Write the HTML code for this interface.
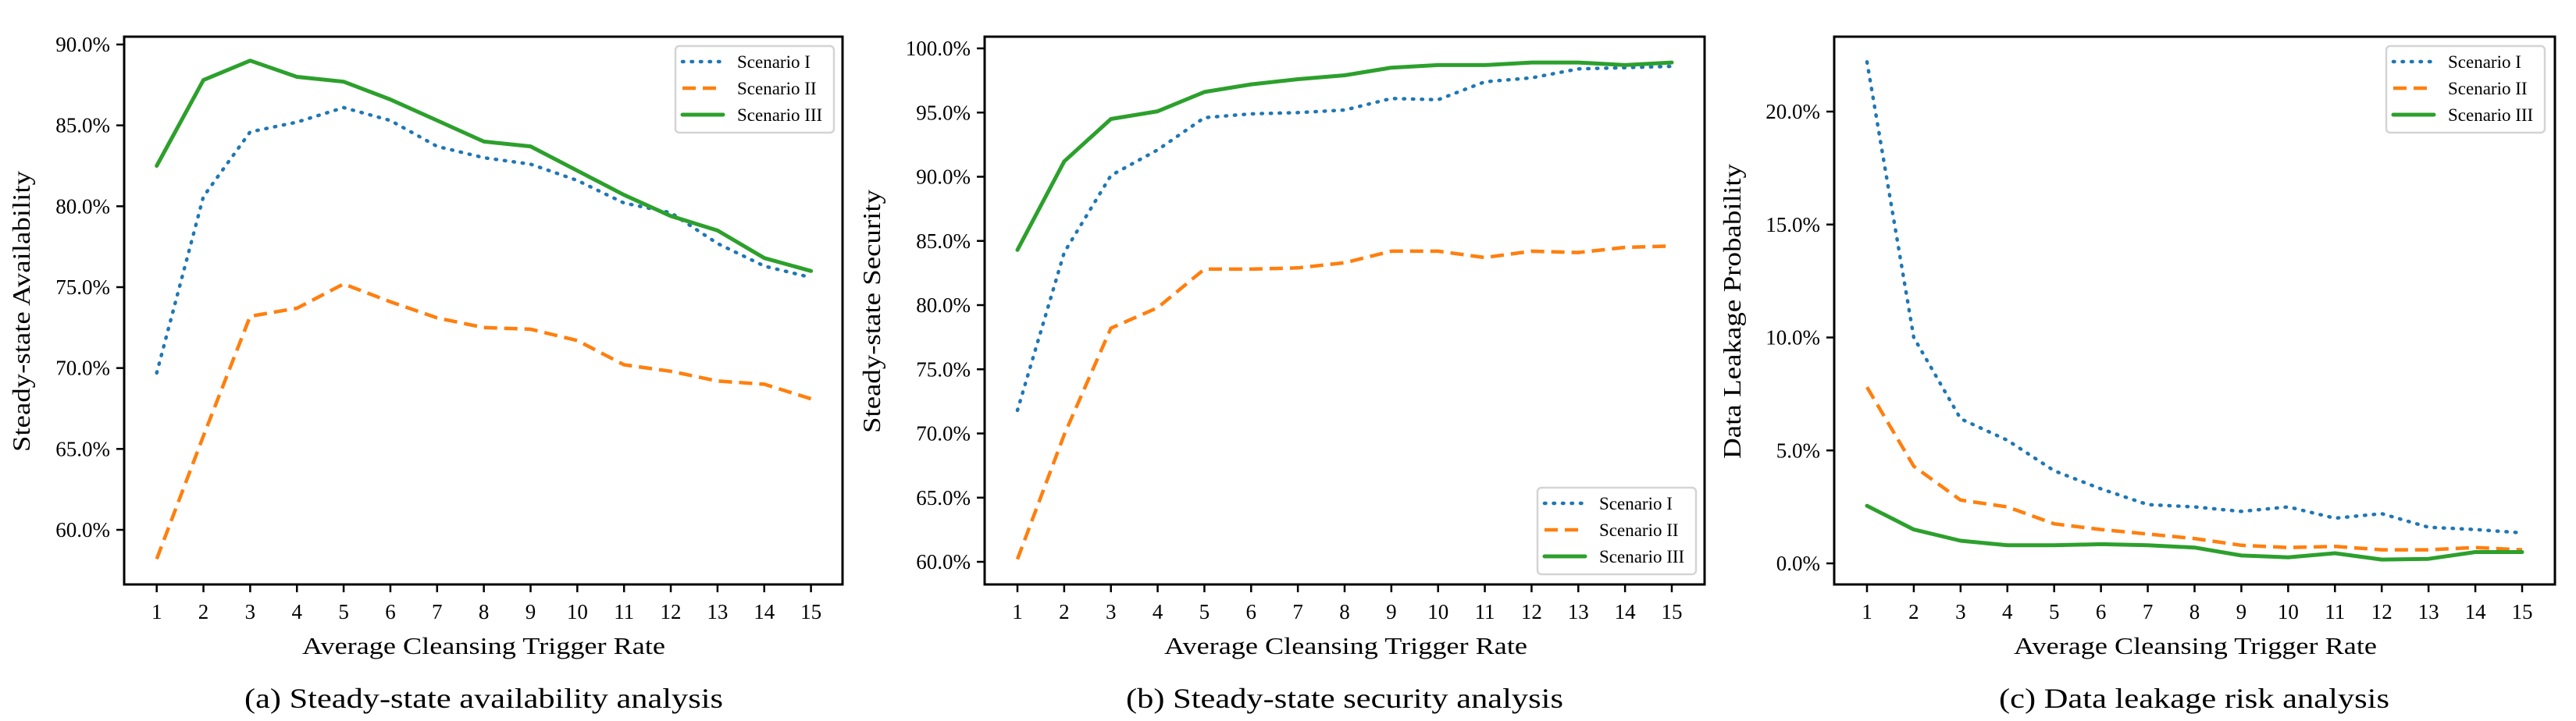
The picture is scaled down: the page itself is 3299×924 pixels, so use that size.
<!DOCTYPE html>
<html><head><meta charset="utf-8">
<style>
html,body{margin:0;padding:0;background:#fff;}
svg{display:block;font-family:"Liberation Serif","DejaVu Serif",serif;}
</style></head>
<body>
<svg id="chart" width="3299" height="924" viewBox="0 0 3299 924" xmlns="http://www.w3.org/2000/svg"></svg>
<script>
const xCategories = [1,2,3,4,5,6,7,8,9,10,11,12,13,14,15];
const seriesNames = ["Scenario I","Scenario II","Scenario III"];
const availI = [69.7,80.6,84.6,85.2,86.1,85.3,83.7,83.0,82.6,81.6,80.2,79.6,77.7,76.3,75.6];
const availII = [58.2,65.8,73.2,73.7,75.2,74.1,73.1,72.5,72.4,71.7,70.2,69.8,69.2,69.0,68.1];
const availIII = [82.5,87.8,89.0,88.0,87.7,86.6,85.3,84.0,83.7,82.2,80.7,79.4,78.5,76.8,76.0];
const secI = [71.8,84.1,90.1,92.1,94.6,94.9,95.0,95.2,96.1,96.0,97.4,97.7,98.4,98.5,98.6];
const secII = [60.2,69.9,78.2,79.8,82.8,82.8,82.9,83.3,84.2,84.2,83.7,84.2,84.1,84.5,84.6];
const secIII = [84.3,91.2,94.5,95.1,96.6,97.2,97.6,97.9,98.5,98.7,98.7,98.9,98.9,98.7,98.9];
const leakI = [22.2,10.0,6.4,5.45,4.1,3.3,2.6,2.5,2.3,2.5,2.0,2.2,1.6,1.5,1.35];
const leakII = [7.8,4.3,2.8,2.5,1.75,1.5,1.3,1.1,0.8,0.7,0.75,0.6,0.6,0.7,0.6];
const leakIII = [2.55,1.5,1.0,0.8,0.8,0.85,0.8,0.7,0.35,0.27,0.45,0.17,0.2,0.5,0.5];
const availTicks = [60,65,70,75,80,85,90];
const secTicks = [60,65,70,75,80,85,90,95,100];
const leakTicks = [0,5,10,15,20];

const NS="http://www.w3.org/2000/svg";
const svg=document.getElementById('chart');
function mk(tag,attrs,parent){const e=document.createElementNS(NS,tag);for(const k in attrs)e.setAttribute(k,attrs[k]);(parent||svg).appendChild(e);return e;}
const colors=["#1f77b4","#ff7f0e","#2ca02c"];
const dashes=["1.5,10","17,9",""];
const caps=["round","butt","round"];

function panel(p){
  const g=mk('g',{});
  
  
  const xs=v=>p.x1+(v-1)*(p.x15-p.x1)/14;
  const ys=v=>p.yA+(v-p.vA)*(p.yB-p.yA)/(p.vB-p.vA);
  // series
  p.series.forEach((arr,i)=>{
    const pts=arr.map((v,j)=>xs(xCategories[j]).toFixed(1)+','+ys(v).toFixed(1)).join(' ');
    const l=mk('polyline',{points:pts,fill:'none',stroke:colors[i],'stroke-width':i==2?5:4.5,'stroke-linejoin':'round','stroke-linecap':caps[i]},g);
    if(dashes[i])l.setAttribute('stroke-dasharray',dashes[i]);
    
    
  });
  // frame
  const fr=mk('rect',{x:p.L,y:47,width:p.R-p.L,height:702,fill:'none',stroke:'#000','stroke-width':3},g);
  
  
  // y ticks
  p.yt.forEach(t=>{
    const y=ys(t);
    mk('line',{x1:p.L-10,x2:p.L,y1:y,y2:y,stroke:'#000','stroke-width':2.5},g);
    const tx=mk('text',{x:p.L-18,y:y+9,'text-anchor':'end','font-size':27},g);
    tx.textContent=t.toFixed(1)+'%';
    
    
  });
  xCategories.forEach(c=>{
    const x=xs(c);
    mk('line',{x1:x,x2:x,y1:749,y2:759,stroke:'#000','stroke-width':2.5},g);
    const tx=mk('text',{x:x,y:793,'text-anchor':'middle','font-size':27},g);
    tx.textContent=c;
    
    
  });
  const xl=mk('text',{x:(p.xl0+p.xl1)/2,y:838,'text-anchor':'middle','font-size':31,textLength:p.xl1-p.xl0,lengthAdjust:'spacingAndGlyphs'},g);
  xl.textContent='Average Cleansing Trigger Rate';
  
  
  const yl=mk('text',{x:0,y:0,'text-anchor':'middle','font-size':32,textLength:p.ylLen,lengthAdjust:'spacingAndGlyphs',transform:`translate(${p.ylx},${p.ylc}) rotate(-90)`},g);
  yl.textContent=p.ylabel;
  
  
  const cp=mk('text',{x:(p.c0+p.c1)/2,y:907,'text-anchor':'middle','font-size':36,textLength:p.c1-p.c0,lengthAdjust:'spacingAndGlyphs'},g);
  cp.textContent=p.caption;
  
  
  // legend
  const lg=mk('g',{},g);
  
  
  mk('rect',{x:p.lgx,y:p.lgy,width:203,height:111,rx:5,fill:'#fff','fill-opacity':0.8,stroke:'#d4d4d4','stroke-width':2.5},lg);
  seriesNames.forEach((n,i)=>{
    const y=p.lgy+20+i*34;
    const l=mk('line',{x1:p.lgx+9,x2:p.lgx+61,y1:y,y2:y,stroke:colors[i],'stroke-width':i==2?5:4.5,'stroke-linecap':caps[i]},lg);
    if(dashes[i])l.setAttribute('stroke-dasharray',dashes[i]);
    
    
    const t=mk('text',{x:p.lgx+79,y:y+8,'font-size':23},lg);
    t.textContent=n;
    
    
  });
}
panel({name:'availability-panel',L:159,R:1079,x1:200.7,x15:1038.6,vA:90,yA:57,vB:60,yB:679,yt:availTicks,
  series:[availI,availII,availIII],xl0:387,xl1:852,ylx:38,ylc:399,ylLen:360,ylabel:'Steady-state Availability',
  c0:313,c1:926,caption:'(a) Steady-state availability analysis',lgx:865,lgy:59});
panel({name:'security-panel',L:1261,R:2183,x1:1303,x15:2141,vA:100,yA:62,vB:60,yB:720,yt:secTicks,
  series:[secI,secII,secIII],xl0:1491,xl1:1956,ylx:1127,ylc:399,ylLen:312,ylabel:'Steady-state Security',
  c0:1442,c1:2002,caption:'(b) Steady-state security analysis',lgx:1969,lgy:625});
panel({name:'leakage-panel',L:2349,R:3272,x1:2391,x15:3230,vA:20,yA:143,vB:0,yB:722,yt:leakTicks,
  series:[leakI,leakII,leakIII],xl0:2579,xl1:3044,ylx:2229,ylc:399,ylLen:378,ylabel:'Data Leakage Probability',
  c0:2560,c1:3060,caption:'(c) Data leakage risk analysis',lgx:3056,lgy:59});
</script>
</body></html>
